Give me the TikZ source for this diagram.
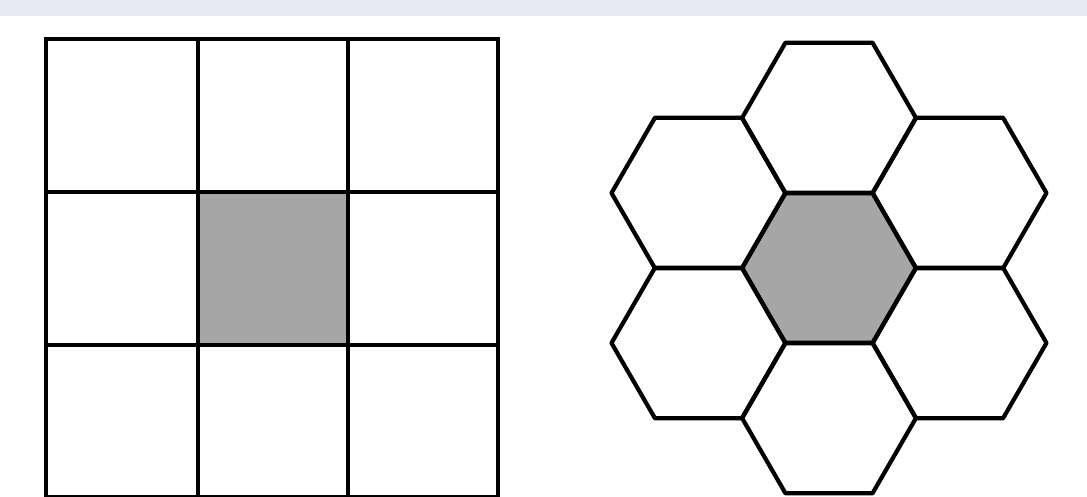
\documentclass[tikz,border=0pt]{standalone}
\definecolor{bandcol}{RGB}{232,232,242}
\definecolor{cellgray}{RGB}{166,166,166}
\begin{document}
\begin{tikzpicture}[x=1pt, y=-1pt,
  cell/.style={draw=black, line width=4.2pt},
  hexcell/.style={draw=black, line width=4.2pt, line join=round},
  picked/.style={fill=cellgray}
]
  \useasboundingbox (0,0) rectangle (1087,497);
  \clip (0,0) rectangle (1087,497);
  \fill[bandcol] (0,0) rectangle (1087,16);

  % square grid
  \fill[picked] (198,192) rectangle (348,345);
  \foreach \x in {198,348}
    \draw[cell] (\x,39) -- (\x,497);
  \foreach \y in {192,345}
    \draw[cell] (46,\y) -- (498,\y);
  \draw[cell] (46,39) rectangle (498,497);

  % hexagonal grid
  \fill[picked] (829,268) +(0:87) -- +(60:87) -- +(120:87) -- +(180:87)
    -- +(240:87) -- +(300:87) -- cycle;
  \foreach \cx/\cy in {829/268, 829/118, 829/418, 698.5/193, 959.5/193,
                       698.5/343, 959.5/343}
    \draw[hexcell] (\cx,\cy) +(0:87) -- +(60:87) -- +(120:87) -- +(180:87)
      -- +(240:87) -- +(300:87) -- cycle;
\end{tikzpicture}
\end{document}
